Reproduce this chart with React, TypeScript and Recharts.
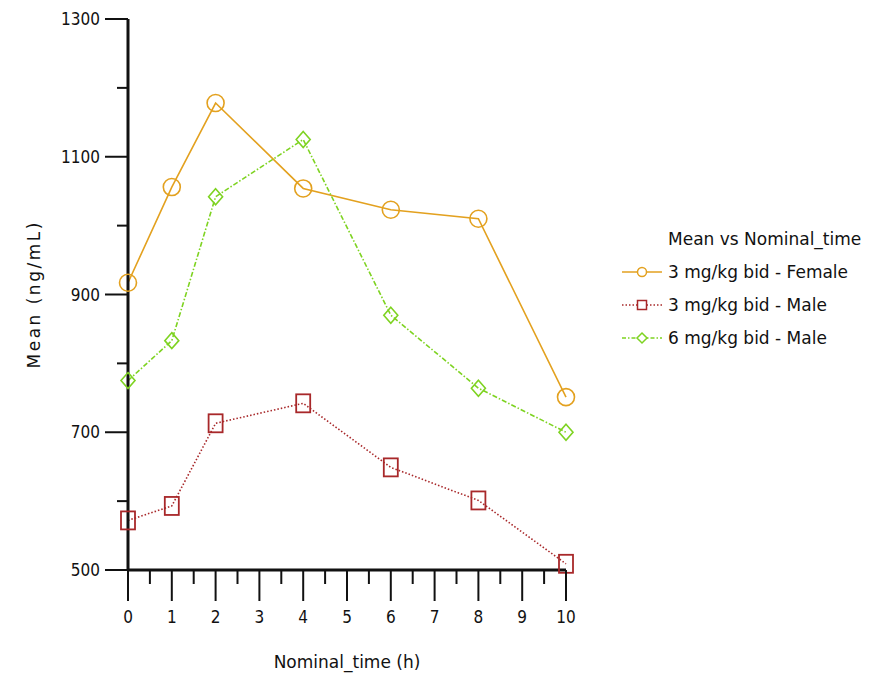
import { LineChart, Line, XAxis, YAxis, Legend } from 'recharts'

const times = [0, 1, 2, 4, 6, 8, 10]
const female3 = [917, 1056, 1178, 1054, 1023, 1010, 751]
const male3 = [572, 593, 713, 742, 649, 601, 509]
const male6 = [775, 833, 1042, 1125, 870, 764, 700]

const yTicks = [500, 600, 700, 800, 900, 1000, 1100, 1200, 1300]
const yLabels = [500, 700, 900, 1100, 1300]
const xTicks = [0, 0.5, 1, 1.5, 2, 2.5, 3, 3.5, 4, 4.5, 5, 5.5, 6, 6.5, 7, 7.5, 8, 8.5, 9, 9.5, 10]

const seriesNames = ['3 mg/kg bid - Female', '3 mg/kg bid - Male', '6 mg/kg bid - Male']

const data = times.map((t, i) => ({
  time: t,
  female3: female3[i],
  male3: male3[i],
  male6: male6[i],
}))

const FONT = '"DejaVu Sans Condensed", "DejaVu Sans", sans-serif'
const FONT_WIDE = '"DejaVu Sans", sans-serif'
const ORANGE = '#E3A11F'
const RED = '#A8282A'
const GREEN = '#7ED321'
const AXIS = '#111'

const YTick = (props: any) => {
  const { x, y, payload } = props
  const major = yLabels.includes(payload.value)
  return (
    <g>
      <line x1={x} x2={x - (major ? 23 : 11)} y1={y} y2={y} stroke={AXIS} strokeWidth={2} />
      {major && (
        <text x={x - 28} y={y} dy={6} textAnchor="end" fontSize={17} fill="#111" fontFamily={FONT}>
          {payload.value}
        </text>
      )}
    </g>
  )
}

const XTick = (props: any) => {
  const { x, y, payload } = props
  const major = Number.isInteger(payload.value)
  return (
    <g>
      <line x1={x} x2={x} y1={y} y2={y + (major ? 31 : 14)} stroke={AXIS} strokeWidth={2} />
      {major && (
        <text x={x} y={y + 53} textAnchor="middle" fontSize={17} fill="#111" fontFamily={FONT}>
          {payload.value}
        </text>
      )}
    </g>
  )
}

const circleDot = (p: any) => (
  <circle key={p.key ?? p.index} cx={p.cx} cy={p.cy} r={8.5} fill="none" stroke={ORANGE} strokeWidth={1.6} />
)
const squareDot = (p: any) => (
  <rect key={p.key ?? p.index} x={p.cx - 7} y={p.cy - 9} width={14} height={18} fill="none" stroke={RED} strokeWidth={1.8} />
)
const diamondDot = (p: any) => (
  <polygon
    key={p.key ?? p.index}
    points={`${p.cx},${p.cy - 8} ${p.cx + 7},${p.cy} ${p.cx},${p.cy + 8} ${p.cx - 7},${p.cy}`}
    fill="none"
    stroke={GREEN}
    strokeWidth={1.6}
  />
)

const legendItems = [
  { name: seriesNames[0], color: ORANGE, dash: undefined, marker: 'circle' },
  { name: seriesNames[1], color: RED, dash: '1.5 2', marker: 'square' },
  { name: seriesNames[2], color: GREEN, dash: '4 2 1.5 2', marker: 'diamond' },
]

const LegendBox = () => (
  <div style={{ fontFamily: FONT_WIDE, fontSize: 17, color: '#111' }}>
    <div style={{ marginLeft: 46, height: 31, lineHeight: '31px' }}>Mean vs Nominal_time</div>
    {legendItems.map((it) => (
      <div key={it.name} style={{ display: 'flex', alignItems: 'center', height: 33 }}>
        <svg width={40} height={16} style={{ marginRight: 6 }}>
          <line x1={0} x2={40} y1={8} y2={8} stroke={it.color} strokeWidth={1.6} strokeDasharray={it.dash} />
          {it.marker === 'circle' && <circle cx={20} cy={8} r={4.5} fill="#fff" stroke={it.color} strokeWidth={1.5} />}
          {it.marker === 'square' && <rect x={15.5} y={3.5} width={9} height={9} fill="#fff" stroke={it.color} strokeWidth={1.5} />}
          {it.marker === 'diamond' && (
            <polygon points="20,3 25,8 20,13 15,8" fill="#fff" stroke={it.color} strokeWidth={1.5} />
          )}
        </svg>
        <span>{it.name}</span>
      </div>
    ))}
  </div>
)

export default function App() {
  return (
    <div style={{ position: 'absolute', left: 0, top: 0, background: '#fff' }}>
      <LineChart width={884} height={677} data={data} margin={{ top: 19, right: 58, bottom: 7, left: 28 }}>
        <XAxis
          dataKey="time"
          type="number"
          domain={[0, 10]}
          ticks={xTicks}
          interval={0}
          tick={<XTick />}
          tickLine={false}
          tickSize={0}
          tickMargin={0}
          height={100}
          axisLine={{ stroke: AXIS, strokeWidth: 3 }}
          label={{ value: 'Nominal_time (h)', position: 'insideBottom', offset: 2, fontSize: 17, fill: '#111', fontFamily: FONT_WIDE }}
        />
        <YAxis
          type="number"
          domain={[500, 1300]}
          ticks={yTicks}
          interval={0}
          tick={<YTick />}
          tickLine={false}
          tickSize={0}
          tickMargin={0}
          width={100}
          axisLine={{ stroke: AXIS, strokeWidth: 3 }}
          label={{ value: 'Mean (ng/mL)', angle: -90, position: 'insideLeft', offset: 0, dx: 6, dy: 74, fontSize: 17, fill: '#111', fontFamily: FONT_WIDE, letterSpacing: 2.5 }}
        />
        <Legend
          layout="vertical"
          align="right"
          verticalAlign="top"
          content={<LegendBox />}
          wrapperStyle={{ left: 622, top: 224, width: 260 }}
        />
        <Line dataKey="female3" name={seriesNames[0]} stroke={ORANGE} strokeWidth={1.6} dot={circleDot} isAnimationActive={false} />
        <Line dataKey="male3" name={seriesNames[1]} stroke={RED} strokeWidth={1.6} strokeDasharray="1.5 2" dot={squareDot} isAnimationActive={false} />
        <Line dataKey="male6" name={seriesNames[2]} stroke={GREEN} strokeWidth={1.6} strokeDasharray="5 2 1.5 2" dot={diamondDot} isAnimationActive={false} />
      </LineChart>
    </div>
  )
}
